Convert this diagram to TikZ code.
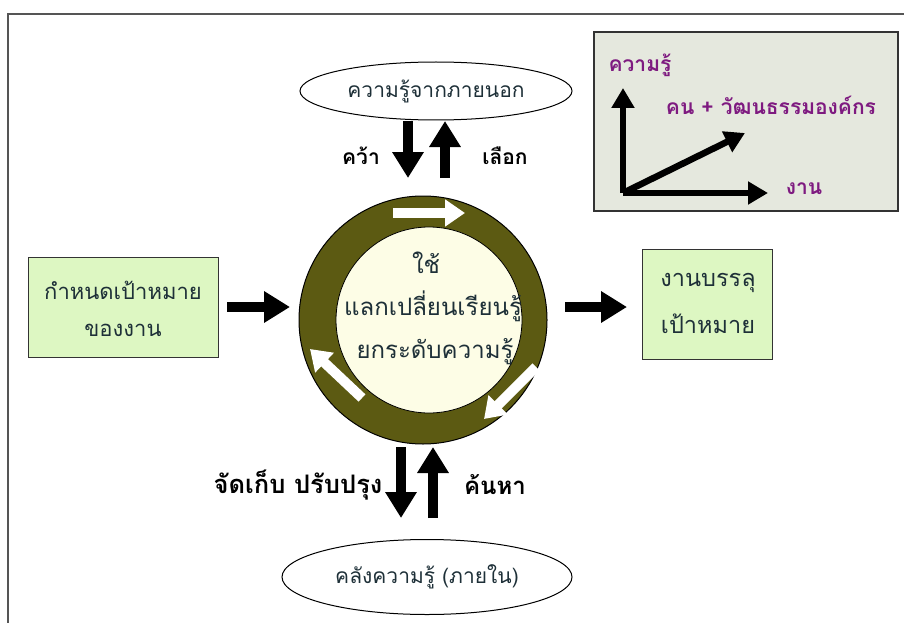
\documentclass[tikz,border=0pt]{standalone}
\usepackage{fontspec}
\newfontfamily\thai[Script=Thai]{Loma}
\usetikzlibrary{shapes.geometric,arrows.meta}
\definecolor{ringc}{HTML}{5C5A12}
\definecolor{innerc}{HTML}{FDFDE6}
\definecolor{boxg}{HTML}{DDF7C2}
\definecolor{insetc}{HTML}{E5E8DE}
\definecolor{txt}{HTML}{1E3038}
\definecolor{purp}{HTML}{7E1A80}
\definecolor{framec}{HTML}{555555}
\newcommand{\fsz}[1]{\fontsize{#1}{#1}\selectfont}
\tikzset{
  lbl/.style={font=\thai\fsz{21}, text=txt},
  alb/.style={font=\thai\bfseries\fsz{21}, text=black},
  plbl/.style={font=\thai\bfseries\fsz{21}, text=purp},
  blk/.style={line width=10pt, -{Triangle[length=26pt,width=30pt]}},
  inarr/.style={line width=6.5pt, -{Triangle[length=20pt,width=22pt]}},
  wht/.style={white, line width=10pt, -{Triangle[length=20pt,width=26pt]}},
  gbox/.style={draw=black!80, line width=0.8pt, fill=boxg},
  ell/.style={ellipse, draw=black, line width=1pt, fill=white, lbl}
}
\begin{document}
\begin{tikzpicture}[x=1pt,y=-1pt]
\useasboundingbox (0,0) rectangle (904,623);
\fill[white] (0,0) rectangle (904,623);
% frame
\draw[framec, line width=1.5pt] (8,623) -- (8,14) -- (904,14);
% inset
\node[draw=black!80, line width=1.3pt, fill=insetc, minimum width=304pt, minimum height=179pt, inner sep=0pt] (inset) at (746,121.5) {};
\coordinate (org) at (623,193);
\coordinate (yt) at (623,88);
\coordinate (xt) at (768,193);
\coordinate (dt) at (745,133);
\draw[inarr] (org) -- (yt);
\draw[inarr] (org) -- (xt);
\draw[inarr] (org) -- (dt);
\node[plbl] (ylab) at (640,65) {ความรู้};
\node[plbl] (dlab) at (771,105) {คน + วัฒนธรรมองค์กร};
\node[plbl] (xlab) at (804,189) {งาน};
% ellipses
\node[ell, minimum width=272pt, minimum height=58pt] (ext) at (436,91) {ความรู้จากภายนอก};
\node[ell, minimum width=290pt, minimum height=75pt] (intl) at (427,577) {คลังความรู้ (ภายใน)};
% ring
\node[circle, draw=black, line width=1pt, fill=ringc, minimum size=248pt, inner sep=0pt] (ring) at (423,320) {};
\node[circle, draw=black, line width=0.8pt, fill=innerc, minimum size=186pt, inner sep=0pt] (core) at (429,320) {};
\node[lbl, font=\thai\fsz{24}] (t1) at (426,263) {ใช้};
\node[lbl, font=\thai\fsz{24}] (t2) at (433,306) {แลกเปลี่ยนเรียนรู้};
\node[lbl, font=\thai\fsz{24}] (t3) at (435,352) {ยกระดับความรู้};
% white arrows in ring
\coordinate (wa1) at (393,213); \coordinate (wb1) at (465,213);
\coordinate (wa2) at (536,367); \coordinate (wb2) at (484,419);
\coordinate (wa3) at (362,398); \coordinate (wb3) at (310,349);
\draw[wht] (wa1) -- (wb1);
\draw[wht] (wa2) -- (wb2);
\draw[wht] (wa3) -- (wb3);
% boxes
\node[gbox, minimum width=190pt, minimum height=100pt] (goal) at (123,307) {};
\node[lbl, font=\thai\fsz{22}] (g1) at (123,290) {กำหนดเป้าหมาย};
\node[lbl, font=\thai\fsz{22}] (g2) at (123,330) {ของงาน};
\node[gbox, minimum width=130pt, minimum height=110pt] (done) at (707,304) {};
\node[lbl, font=\thai\fsz{23.5}] (d1) at (708,283) {งานบรรลุ};
\node[lbl, font=\thai\fsz{23.5}] (d2) at (708,324) {เป้าหมาย};
% black arrows
\coordinate (la) at (227,307); \coordinate (lb) at (290,307);
\coordinate (ra) at (565,307); \coordinate (rb) at (627,307);
\draw[blk] (la) -- (lb);
\draw[blk] (ra) -- (rb);
\coordinate (td1) at (408,121); \coordinate (td2) at (408,178);
\coordinate (tu1) at (445,178); \coordinate (tu2) at (445,121);
\draw[blk] (td1) -- (td2);
\draw[blk] (tu1) -- (tu2);
\coordinate (bd1) at (401,447); \coordinate (bd2) at (401,518);
\coordinate (bu1) at (433,518); \coordinate (bu2) at (433,447);
\draw[blk] (bd1) -- (bd2);
\draw[blk] (bu1) -- (bu2);
% arrow labels
\node[alb] (l1) at (361,156) {คว้า};
\node[alb] (l2) at (505,156) {เลือก};
\node[alb, font=\thai\bfseries\fsz{25.5}, anchor=east] (l3) at (386,485) {จัดเก็บ ปรับปรุง};
\node[alb, font=\thai\bfseries\fsz{24}] (l4) at (495,485) {ค้นหา};
\end{tikzpicture}
\end{document}
